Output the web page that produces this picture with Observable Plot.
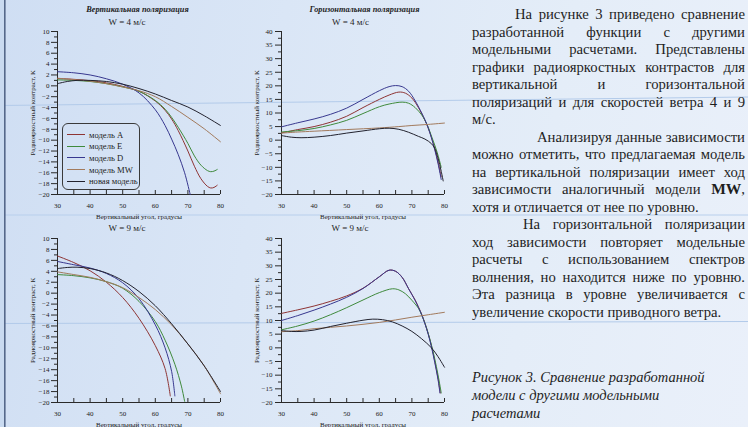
<!DOCTYPE html>
<html><head><meta charset="utf-8">
<script src="https://cdn.jsdelivr.net/npm/d3@7"></script>
<script src="https://cdn.jsdelivr.net/npm/@observablehq/plot@0.6"></script>
<style>
html,body{margin:0;padding:0;}
body{width:748px;height:427px;overflow:hidden;position:relative;font-family:'Liberation Serif','Times New Roman',serif;color:#1e1e1e;
background:linear-gradient(100deg,#cfdef3 0%,#dae6f6 35%,#e4edf8 70%,#eaf0fa 100%);}
.abs{position:absolute;}
.ttl{position:absolute;width:200px;text-align:center;white-space:nowrap;}
.ln{position:absolute;left:472px;width:273px;height:18px;line-height:18px;font-size:14.7px;display:flex;white-space:nowrap;}
.ln.j{justify-content:space-between;}
.ln b{font-size:15.5px;}
.cap{position:absolute;left:472px;height:18px;line-height:18px;font-size:14.5px;font-style:italic;white-space:nowrap;}
</style></head><body>
<svg class="abs" style="left:0;top:0" width="748" height="427">
  <line x1="0" y1="105.5" x2="748" y2="97" stroke="#b3cbea" stroke-width="1"/>
  <line x1="0" y1="215" x2="748" y2="215" stroke="#b8cfec" stroke-width="1"/>
  <line x1="0" y1="323.5" x2="748" y2="321.5" stroke="#b3cbea" stroke-width="1"/>
  <rect x="0" y="0" width="4" height="427" fill="#c9daf0"/>
  <rect x="4" y="0" width="1.6" height="427" fill="#55688a"/>
</svg>
<script>
// ---- data ----
const models = ["модель A", "модель E", "модель D", "модель MW", "новая модель"];
const modelColors = ["#8e3434", "#3f8a3c", "#38388f", "#a27a5c", "#22222e"];

const angleTicks = [30, 40, 50, 60, 70, 80];
const angleMinor = [30, 35, 40, 45, 50, 55, 60, 65, 70, 75, 80];
const vTicks = [-20, -18, -16, -14, -12, -10, -8, -6, -4, -2, 0, 2, 4, 6, 8, 10];
const vMinor = [-19, -17, -15, -13, -11, -9, -7, -5, -3, -1, 1, 3, 5, 7, 9];
const hTicks = [-20, -15, -10, -5, 0, 5, 10, 15, 20, 25, 30, 35, 40];
const hMinor = [-17.5, -12.5, -7.5, -2.5, 2.5, 7.5, 12.5, 17.5, 22.5, 27.5, 32.5, 37.5];

// Vertical polarization, W = 4 m/s
const v4_A = [[30,1.35],[35,1.2],[40,0.95],[45,0.55],[50,-0.1],[55,-1.0],[60,-2.8],[63,-4.5],[65,-6.1],[67,-8.2],[70,-12],[72,-14.8],[74,-17.1],[76,-18.5],[77,-18.8],[78,-18.7],[79,-18.3]];
const v4_E = [[30,1.1],[35,1.0],[40,0.8],[45,0.4],[50,-0.2],[55,-1.0],[60,-2.7],[63,-4.3],[65,-5.8],[67,-7.6],[70,-10.6],[72,-12.9],[74,-14.6],[76,-15.6],[77,-15.8],[78,-15.7],[79,-15.4]];
const v4_D = [[30,2.6],[35,2.4],[40,2.0],[45,1.3],[50,0.3],[55,-1.3],[60,-4.4],[63,-7.3],[65,-9.8],[67,-12.6],[69,-16],[70.7,-20]];
const v4_MW = [[30,1.4],[35,1.15],[40,0.85],[45,0.4],[50,-0.2],[55,-0.9],[60,-2.0],[65,-3.8],[70,-5.8],[75,-7.9],[80,-10.3]];
const v4_new = [[30,0.4],[33,0.8],[36,1.0],[40,1.0],[45,0.8],[50,0.3],[55,-0.5],[60,-1.5],[65,-2.7],[70,-3.9],[75,-5.5],[80,-7.3]];

// Horizontal polarization, W = 4 m/s
const h4_A = [[30,2.7],[35,3.9],[40,5.0],[45,6.6],[50,8.8],[55,12.0],[60,15.0],[63,16.6],[66,17.7],[68,17.3],[70,15.5],[72,12],[74,7.3],[75,4.5],[76,1.0],[77,-3.0],[78,-8.0],[79,-13.5]];
const h4_E = [[30,3.0],[35,3.5],[40,4.3],[45,5.6],[50,7.3],[55,9.8],[60,12.3],[63,13.3],[67,14.0],[69,13.6],[71,12],[73,9.3],[74,7.3],[75,4.8],[76,1.5],[77,-1.8],[78,-5.5],[79,-10]];
const h4_D = [[30,4.9],[35,6.4],[40,7.8],[45,9.5],[50,11.8],[55,15.0],[60,18.2],[63,19.7],[65,20.1],[67,19.7],[69,18.0],[71,14.5],[73,10],[74,7.5],[75,4.5],[76,0.8],[77,-3.5],[78,-8.5],[79,-14.5]];
const h4_MW = [[30,2.6],[35,3.0],[40,3.3],[50,3.9],[60,4.5],[66,5.0],[70,5.4],[75,5.8],[80,6.3]];
const h4_new = [[30,1.7],[33,1.1],[36,0.9],[40,1.1],[45,1.7],[50,2.6],[55,3.4],[60,4.2],[63,4.4],[66,4.0],[69,2.9],[72,1.4],[74,0.4],[76,-1.3],[77,-3],[78,-6.5],[79,-11.5],[79.6,-15]];

// Vertical polarization, W = 9 m/s
const v9_A = [[30,6.8],[35,5.6],[40,4.1],[45,2.0],[50,-0.8],[55,-4.6],[60,-9.6],[63,-13.8],[64.6,-18.8]];
const v9_E = [[30,3.4],[35,3.2],[40,2.8],[45,2.1],[50,0.9],[55,-1.5],[60,-5.2],[63,-8.6],[66,-13],[68,-17],[69,-19.8]];
const v9_D = [[30,5.8],[35,5.2],[40,4.6],[45,3.6],[50,1.9],[55,-1.0],[60,-5.8],[63,-10],[65,-14.3],[66,-18.8]];
const v9_MW = [[30,3.9],[35,3.4],[40,2.9],[45,2.1],[50,1.0],[55,-0.8],[60,-3.0],[65,-5.8],[70,-9.3],[75,-13.3],[80,-18.4]];
const v9_new = [[30,4.5],[33,4.7],[36,4.75],[40,4.5],[45,3.7],[50,2.3],[55,0.3],[60,-2.3],[65,-5.6],[70,-9.3],[75,-13.3],[80,-18]];

// Horizontal polarization, W = 9 m/s
const h9_A = [[30,12.6],[35,13.9],[40,15.3],[45,17.0],[50,19.0],[55,21.8],[60,26.0],[63,28.4],[65,28.0],[67,25.8],[69,21.6],[71,17.5],[72,15],[73,12.3],[74,9],[75,5.2],[76,0.7],[77,-4.8],[78,-11],[78.7,-16.5]];
const h9_E = [[30,6.6],[35,8.0],[40,9.8],[45,12.1],[50,14.7],[55,17.5],[60,20.2],[64,21.6],[66,21.2],[68,19.8],[70,17.4],[71,16],[72,14.5],[73,12],[74,9],[75,5.3],[76,1],[77,-4],[78,-9.8],[79,-16.5]];
const h9_D = [[30,10.0],[35,11.8],[40,13.8],[45,16.0],[50,18.5],[55,21.7],[60,26.0],[63,28.4],[65,28.0],[67,25.8],[69,21.6],[71,17.3],[72,14.8],[73,12.1],[74,8.8],[75,5.0],[76,0.3],[77,-5.3],[78,-11.5],[78.6,-16.5]];
const h9_MW = [[30,5.9],[35,6.3],[40,7.0],[45,7.5],[50,8.0],[55,8.6],[60,9.3],[65,10.2],[70,11.2],[75,12.1],[80,13.0]];
const h9_new = [[30,6.3],[33,6.0],[36,6.0],[40,6.5],[45,7.8],[50,9.0],[55,10.1],[58,10.5],[61,10.3],[64,9.5],[67,8.0],[70,6.0],[73,3.3],[76,0],[78,-3.2],[80,-7.1]];

const xTitle = "Вертикальный угол, градусы";
const yTitle = "Радиояркостный контраст, К";

// ---- drawing ----
const AX = "#2a2a2a";
function panel({left, top, plotH, yDomain, yMajor, yMinor, series, pad}) {
  const mL = 45, mR = 8, mT = 6, mB = 30, plotW = 163;
  const marks = [
    Plot.axisY({ticks: yMinor, tickSize: 3, tickFormat: () => "", label: null, stroke: AX}),
    Plot.axisY({ticks: yMajor, tickSize: 6, tickPadding: pad, label: yTitle, labelAnchor: "center", labelOffset: 27, labelArrow: false, stroke: AX}),
    Plot.axisX({ticks: angleTicks, tickSize: 0, tickPadding: 9, label: xTitle, labelAnchor: "center", labelOffset: 24, labelArrow: false}),
    Plot.ruleX(angleMinor, {x: d => d, stroke: AX, insetTop: plotH - 4}),
    Plot.ruleX([30], {stroke: AX}),
    Plot.ruleY([yDomain[0]], {stroke: AX}),
    ...series.map((s, i) => Plot.line(s, {x: d => d[0], y: d => d[1], stroke: modelColors[i], strokeWidth: 1, curve: "catmull-rom"}))
  ];
  const svg = Plot.plot({
    width: mL + plotW + mR, height: mT + plotH + mB,
    marginLeft: mL, marginRight: mR, marginTop: mT, marginBottom: mB,
    x: {domain: [30, 80]}, y: {domain: yDomain},
    style: {fontFamily: "'Liberation Serif', serif", fontSize: "7px", background: "transparent", color: "#222", overflow: "visible"},
    marks
  });
  svg.style.position = "absolute";
  svg.style.left = (left - mL) + "px";
  svg.style.top = (top - mT) + "px";
  document.body.appendChild(svg);
}

panel({left: 57, top: 31, plotH: 163, yDomain: [-20, 10], yMajor: vTicks, yMinor: vMinor, series: [v4_A, v4_E, v4_D, v4_MW, v4_new], pad: 2});
panel({left: 281, top: 31, plotH: 163, yDomain: [-20, 40], yMajor: hTicks, yMinor: hMinor, series: [h4_A, h4_E, h4_D, h4_MW, h4_new], pad: 3});
panel({left: 57, top: 238, plotH: 164, yDomain: [-20, 10], yMajor: vTicks, yMinor: vMinor, series: [v9_A, v9_E, v9_D, v9_MW, v9_new], pad: 2});
panel({left: 281, top: 238, plotH: 164, yDomain: [-20, 40], yMajor: hTicks, yMinor: hMinor, series: [h9_A, h9_E, h9_D, h9_MW, h9_new], pad: 3});

// titles
function addText(txt, cx, cy, css) {
  const d = document.createElement("div");
  d.className = "ttl";
  d.textContent = txt;
  d.style.cssText += `left:${cx - 100}px;top:${cy - 6}px;height:12px;line-height:12px;` + css;
  document.body.appendChild(d);
}
addText("Вертикальная поляризация", 137.5, 10, "font-size:8.3px;font-weight:bold;font-style:italic;");
addText("Горизонтальная поляризация", 364.5, 10, "font-size:8.3px;font-weight:bold;font-style:italic;");
addText("W = 4 м/с", 127, 22, "font-size:9px;");
addText("W = 4 м/с", 350.5, 22, "font-size:9px;");
addText("W = 9 м/с", 127, 228, "font-size:9px;");
addText("W = 9 м/с", 350, 228, "font-size:9px;");

// legend
const lg = document.createElement("div");
lg.style.cssText = "position:absolute;left:62px;top:123px;width:78px;height:67px;border:1px solid #3a3a3a;border-radius:6px;box-sizing:border-box;padding-top:5px;";
models.forEach((m, i) => {
  const row = document.createElement("div");
  row.style.cssText = "display:flex;align-items:center;height:11.6px;";
  const sw = document.createElement("span");
  sw.style.cssText = `display:inline-block;width:18px;margin-left:4px;border-top:1.2px solid ${modelColors[i]};`;
  const tx = document.createElement("span");
  tx.style.cssText = "margin-left:4px;font-size:8.6px;white-space:nowrap;color:#222;";
  tx.textContent = m;
  row.appendChild(sw); row.appendChild(tx);
  lg.appendChild(row);
});
document.body.appendChild(lg);

// right text
const paraLines = [
  {t: "На рисунке 3 приведено сравнение", indent: 43, j: true},
  {t: "разработанной функции с другими", indent: 0, j: true},
  {t: "модельными расчетами. Представлены", indent: 0, j: true},
  {t: "графики радиояркостных контрастов для", indent: 0, j: true},
  {t: "вертикальной и горизонтальной", indent: 0, j: true},
  {t: "поляризаций и для скоростей ветра 4 и 9", indent: 0, j: true},
  {t: "м/с.", indent: 0, j: false},
  {t: "Анализируя данные зависимости", indent: 65, j: true},
  {t: "можно отметить, что предлагаемая модель", indent: 0, j: true},
  {t: "на вертикальной поляризации имеет ход", indent: 0, j: true},
  {t: "зависимости аналогичный модели <b>MW</b>,", indent: 0, j: true},
  {t: "хотя и отличается от нее по уровню.", indent: 0, j: false},
  {t: "На горизонтальной поляризации", indent: 51, j: true},
  {t: "ход зависимости повторяет модельные", indent: 0, j: true},
  {t: "расчеты с использованием спектров", indent: 0, j: true},
  {t: "волнения, но находится ниже по уровню.", indent: 0, j: true},
  {t: "Эта разница в уровне увеличивается с", indent: 0, j: true},
  {t: "увеличение скорости приводного ветра.", indent: 0, j: false}
];
paraLines.forEach((L, i) => {
  const d = document.createElement("div");
  d.className = "ln" + (L.j ? " j" : "");
  const cy = 14 + i * 17.5;
  d.style.top = (cy - 9) + "px";
  d.style.left = (472 + L.indent) + "px";
  d.style.width = (273 - L.indent) + "px";
  if (L.j) {
    L.t.split(" ").forEach(w => { const s = document.createElement("span"); s.innerHTML = w; d.appendChild(s); });
  } else {
    d.innerHTML = L.t;
  }
  document.body.appendChild(d);
});
const capLines = ["Рисунок 3. Сравнение разработанной", "модели с другими модельными", "расчетами"];
capLines.forEach((t, i) => {
  const d = document.createElement("div");
  d.className = "cap";
  d.style.top = (377 + i * 18.2 - 9) + "px";
  d.textContent = t;
  document.body.appendChild(d);
});
</script>
</body></html>
